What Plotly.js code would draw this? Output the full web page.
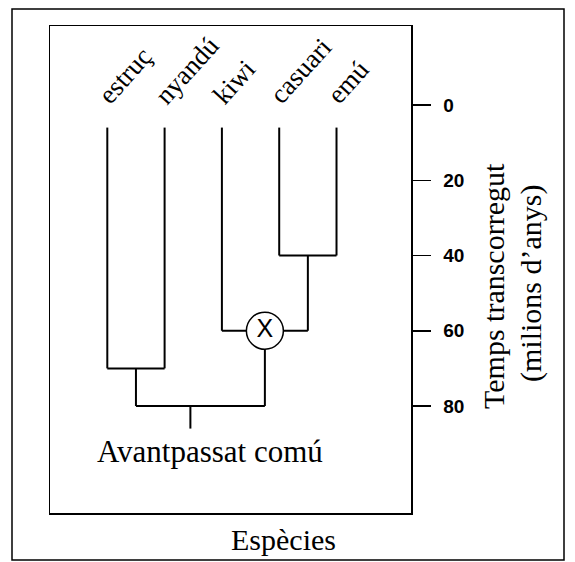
<!DOCTYPE html>
<html>
<head>
<meta charset="utf-8">
<script src="https://cdn.plot.ly/plotly-3.0.1.min.js"></script>
<style>html,body{margin:0;padding:0;background:#fff;}#chart{width:575px;height:562px;}</style>
</head>
<body>
<div id="chart"></div>
<script>
// ---- data ----
const taxa = ['estruç', 'nyandú', 'kiwi', 'casuari', 'emú'];
const taxonX = [1, 2, 3, 4, 5];
const tipStart = 6;                       // top of the terminal branches (Ma)
const taxonParent = ['EN', 'EN', 'X', 'CE', 'CE'];
const nodeIds = ['EN', 'CE', 'X', 'R'];
const nodeAge = [70, 40, 60, 80];        // divergence times (Ma)
const nodeParent = ['R', 'X', 'R', null];
const rootStemX = 2.45;
const rootStemEnd = 86;
const yTicks = [0, 20, 40, 60, 80];
const yTitleLines = ['Temps transcorregut', '(milions d’anys)'];
const xTitle = 'Espècies';
const rootLabel = 'Avantpassat comú';
const markedNode = 'X';

// ---- build tree geometry ----
const nodeX = {};
const ageOf = {};
nodeIds.forEach((id, i) => { ageOf[id] = nodeAge[i]; });
function childrenX(id) {
  const xs = [];
  taxa.forEach((t, i) => { if (taxonParent[i] === id) xs.push(taxonX[i]); });
  nodeIds.forEach((n, i) => { if (nodeParent[i] === id) xs.push(getNodeX(n)); });
  return xs;
}
function getNodeX(id) {
  if (nodeX[id] !== undefined) return nodeX[id];
  const xs = childrenX(id);
  nodeX[id] = xs.reduce((a, b) => a + b, 0) / xs.length;
  return nodeX[id];
}
nodeIds.forEach(getNodeX);

const lx = [], ly = [];
function seg(x0, y0, x1, y1) { lx.push(x0, x1, null); ly.push(y0, y1, null); }
taxa.forEach((t, i) => seg(taxonX[i], tipStart, taxonX[i], ageOf[taxonParent[i]]));
nodeIds.forEach((id, i) => {
  const xs = childrenX(id);
  seg(Math.min(...xs), nodeAge[i], Math.max(...xs), nodeAge[i]);
  if (nodeParent[i]) seg(nodeX[id], nodeAge[i], nodeX[id], ageOf[nodeParent[i]]);
  else seg(rootStemX, nodeAge[i], rootStemX, rootStemEnd);
});

const traces = [
  { x: lx, y: ly, mode: 'lines', line: { color: '#000', width: 2 }, hoverinfo: 'skip', showlegend: false },
  { x: [nodeX[markedNode]], y: [ageOf[markedNode]], mode: 'markers+text', text: ['X'],
    textposition: 'middle center', textfont: { family: 'Liberation Sans, Arial', size: 25, color: '#000' },
    marker: { size: 37, color: '#fff', line: { color: '#000', width: 1.5 } }, hoverinfo: 'skip', showlegend: false }
];

// plot area: x 50..411, y 26..513 px
const L = 50, R = 411, T = 26, B = 513;
const px = v => (v - L) / (R - L);
const py = v => (B - v) / (B - T);

const serif = 'Liberation Serif, Times New Roman, serif';
const annotations = taxa.map((t, i) => ({
  x: taxonX[i], y: tipStart, xref: 'x', yref: 'y', text: t, showarrow: false,
  textangle: -48, xanchor: 'left', yanchor: 'bottom', xshift: -18, yshift: 15,
  font: { family: serif, size: 27, color: '#000' }
}));
annotations.push({ x: 2.8, y: 92.2, xref: 'x', yref: 'y', text: rootLabel, showarrow: false,
  xanchor: 'center', yanchor: 'middle', font: { family: serif, size: 31, color: '#000' } });
annotations.push({ x: px(283), y: py(539), xref: 'paper', yref: 'paper', text: xTitle, showarrow: false,
  xanchor: 'center', yanchor: 'middle', font: { family: serif, size: 30, color: '#000' } });
annotations.push({ x: px(494), y: py(286), xref: 'paper', yref: 'paper', text: yTitleLines[0], showarrow: false,
  textangle: -90, xanchor: 'center', yanchor: 'middle', font: { family: serif, size: 30, color: '#000' } });
annotations.push({ x: px(531), y: py(284), xref: 'paper', yref: 'paper', text: yTitleLines[1], showarrow: false,
  textangle: -90, xanchor: 'center', yanchor: 'middle', font: { family: serif, size: 30, color: '#000' } });

const layout = {
  width: 575, height: 562,
  margin: { l: L, r: 575 - R, t: T, b: 562 - B },
  paper_bgcolor: '#fff', plot_bgcolor: '#fff',
  showlegend: false,
  xaxis: { range: [0, 6.3], showgrid: false, zeroline: false, showticklabels: false, ticks: '',
    showline: true, mirror: true, linecolor: '#000', linewidth: 1.5, fixedrange: true },
  yaxis: { range: [(B - 105) / 3.7625, -21], side: 'right', showgrid: false, zeroline: false,
    tickvals: yTicks, ticktext: yTicks.map(String), ticks: 'outside', ticklen: 18, tickwidth: 1.5, tickcolor: '#000',
    ticklabelstandoff: 9,
    tickfont: { family: 'Liberation Sans, Arial', size: 19, color: '#000', weight: 'bold' },
    showline: true, mirror: true, linecolor: '#000', linewidth: 1.5, fixedrange: true },
  annotations: annotations,
  shapes: [{ type: 'rect', xref: 'paper', yref: 'paper', x0: px(12), x1: px(564), y0: py(560), y1: py(9),
    line: { color: '#000', width: 1.5 }, fillcolor: 'rgba(0,0,0,0)', layer: 'below' }]
};

Plotly.newPlot('chart', traces, layout, { displayModeBar: false, staticPlot: true });
</script>
</body>
</html>
